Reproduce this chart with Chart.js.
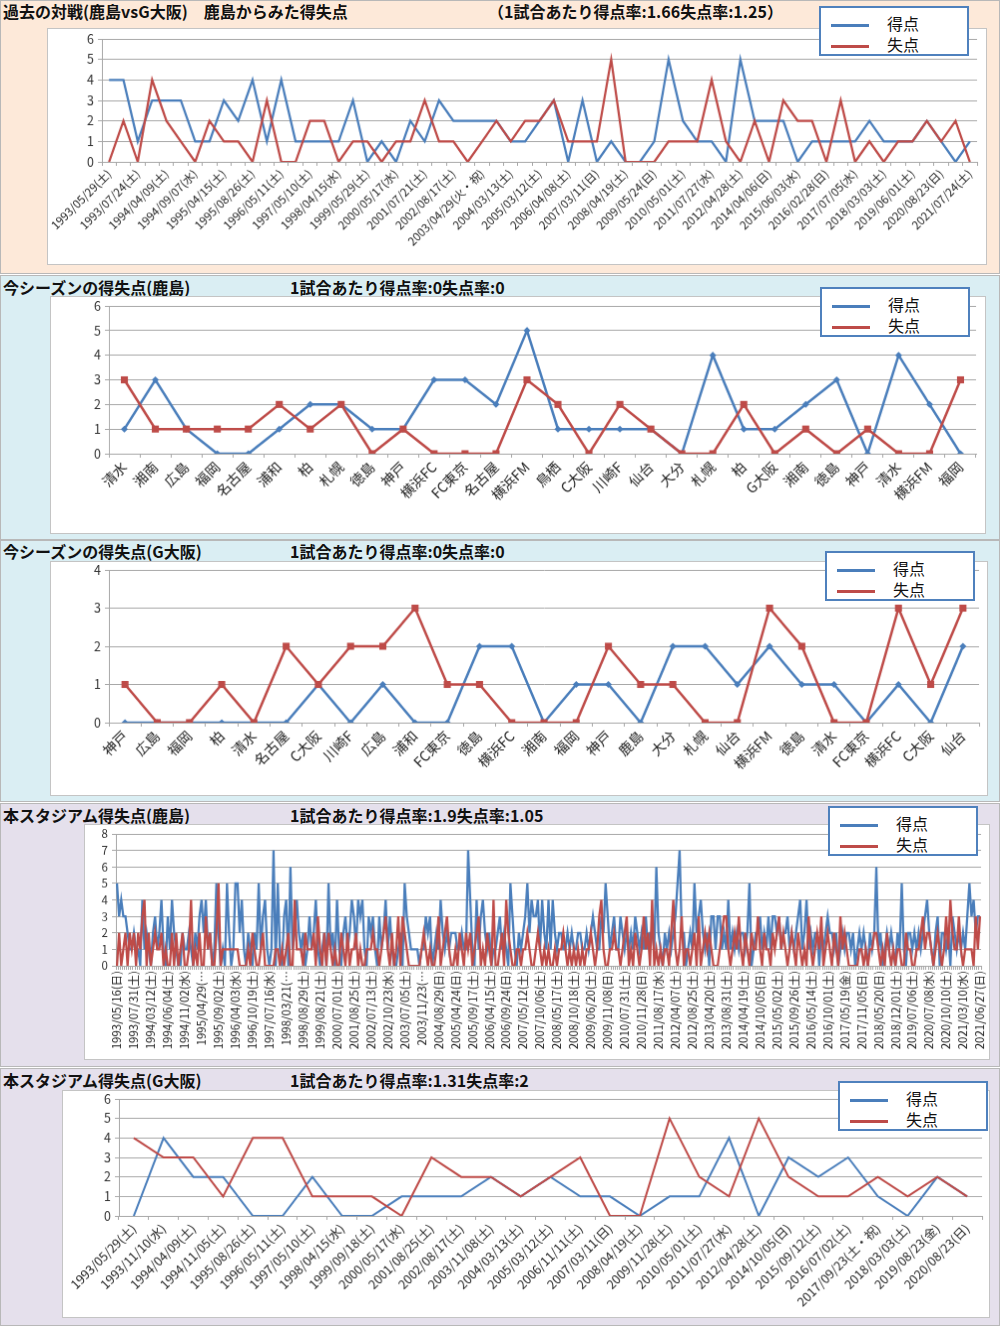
<!DOCTYPE html>
<html lang="ja">
<head>
<meta charset="UTF-8">
<title>鹿島 vs G大阪 得失点</title>
<script src="https://cdn.jsdelivr.net/npm/chart.js@4"></script>
<style>
  body { margin: 0; width: 1000px; height: 1326px; position: relative; font-family: 'Noto Sans CJK JP', sans-serif; background: #fff; }
  .panel { position: absolute; left: 0; width: 998px; border: 1px solid #b8b8b8; }
  .ttl { position: absolute; font-size: 16px; font-weight: bold; color: #111; white-space: nowrap; line-height: 18px; }
  canvas { position: absolute; background: #fff; border: 1px solid #c4c4c4; }
  .legend { position: absolute; width: 150px; height: 50px; background: #fff; border: 2px solid #4f81bd; box-sizing: border-box; }
  .legend div { position: absolute; left: 66px; font-size: 16px; line-height: 18px; color: #111; }
  .legend span { position: absolute; left: 10px; width: 38px; height: 3px; }
</style>
</head>
<body>
<div class="panel" style="top:0;height:272px;background:#fde9d9"></div>
<div class="panel" style="top:275px;height:263px;background:#daeef3"></div>
<div class="panel" style="top:540px;height:260px;background:#daeef3"></div>
<div class="panel" style="top:803px;height:262px;background:#e5e0ec"></div>
<div class="panel" style="top:1068px;height:256px;background:#e5e0ec"></div>

<div class="ttl" style="left:3px;top:2px">過去の対戦(鹿島vsG大阪)　鹿島からみた得失点</div>
<div class="ttl" style="left:488px;top:2px">（1試合あたり得点率:1.66失点率:1.25）</div>
<div class="ttl" style="left:3px;top:278px">今シーズンの得失点(鹿島)</div>
<div class="ttl" style="left:290px;top:278px">1試合あたり得点率:0失点率:0</div>
<div class="ttl" style="left:3px;top:542px">今シーズンの得失点(G大阪)</div>
<div class="ttl" style="left:290px;top:542px">1試合あたり得点率:0失点率:0</div>
<div class="ttl" style="left:3px;top:806px">本スタジアム得失点(鹿島)</div>
<div class="ttl" style="left:290px;top:806px">1試合あたり得点率:1.9失点率:1.05</div>
<div class="ttl" style="left:3px;top:1071px">本スタジアム得失点(G大阪)</div>
<div class="ttl" style="left:290px;top:1071px">1試合あたり得点率:1.31失点率:2</div>

<canvas id="c1" width="940" height="237" style="left:47px;top:28px"></canvas>
<canvas id="c2" width="936" height="238" style="left:50px;top:296px"></canvas>
<canvas id="c3" width="938" height="235" style="left:50px;top:561px"></canvas>
<canvas id="c4" width="906" height="236" style="left:84px;top:824px"></canvas>
<canvas id="c5" width="928" height="228" style="left:62px;top:1090px"></canvas>

<div class="legend" style="left:819px;top:6px"><span style="top:16px;background:#4a7ebb"></span><div style="top:6px">得点</div><span style="top:37px;background:#be4b48"></span><div style="top:27px">失点</div></div>
<div class="legend" style="left:820px;top:287px"><span style="top:16px;background:#4a7ebb"></span><div style="top:6px">得点</div><span style="top:37px;background:#be4b48"></span><div style="top:27px">失点</div></div>
<div class="legend" style="left:825px;top:551px"><span style="top:16px;background:#4a7ebb"></span><div style="top:6px">得点</div><span style="top:37px;background:#be4b48"></span><div style="top:27px">失点</div></div>
<div class="legend" style="left:828px;top:806px"><span style="top:16px;background:#4a7ebb"></span><div style="top:6px">得点</div><span style="top:37px;background:#be4b48"></span><div style="top:27px">失点</div></div>
<div class="legend" style="left:838px;top:1081px"><span style="top:16px;background:#4a7ebb"></span><div style="top:6px">得点</div><span style="top:37px;background:#be4b48"></span><div style="top:27px">失点</div></div>

<script>
// 過去の対戦 (61試合, ラベルは1試合おき)
const h2hDates = ['1993/05/29(土)','1993/07/24(土)','1994/04/09(土)','1994/09/07(水)','1995/04/15(土)','1995/08/26(土)','1996/05/11(土)','1997/05/10(土)','1998/04/15(水)','1999/05/29(土)','2000/05/17(水)','2001/07/21(土)','2002/08/17(土)','2003/04/29(火・祝)','2004/03/13(土)','2005/03/12(土)','2006/04/08(土)','2007/03/11(日)','2008/04/19(土)','2009/05/24(日)','2010/05/01(土)','2011/07/27(水)','2012/04/28(土)','2014/04/06(日)','2015/06/03(水)','2016/02/28(日)','2017/07/05(水)','2018/03/03(土)','2019/06/01(土)','2020/08/23(日)','2021/07/24(土)'];
const h2hFor = [4,4,1,3,3,3,1,1,3,2,4,1,4,1,1,1,1,3,0,1,0,2,1,3,2,2,2,2,1,1,2,3,0,3,0,1,0,0,1,5,2,1,1,0,5,2,2,2,0,1,1,1,1,2,1,1,1,2,1,0,1];
const h2hAgainst = [0,2,0,4,2,1,0,2,1,1,0,3,0,0,2,2,0,1,1,0,1,1,3,1,1,0,1,2,1,2,2,3,1,1,1,5,0,0,0,1,1,1,4,1,0,2,0,3,2,2,0,3,0,1,0,1,1,2,1,2,0];

// 今シーズン(鹿島)
const kashimaTeams = ['清水','湘南','広島','福岡','名古屋','浦和','柏','札幌','徳島','神戸','横浜FC','FC東京','名古屋','横浜FM','鳥栖','C大阪','川崎F','仙台','大分','札幌','柏','G大阪','湘南','徳島','神戸','清水','横浜FM','福岡'];
const kashimaFor = [1,3,1,0,0,1,2,2,1,1,3,3,2,5,1,1,1,1,0,4,1,1,2,3,0,4,2,0];
const kashimaAgainst = [3,1,1,1,1,2,1,2,0,1,0,0,0,3,2,0,2,1,0,0,2,0,1,0,1,0,0,3];

// 今シーズン(G大阪)
const gambaTeams = ['神戸','広島','福岡','柏','清水','名古屋','C大阪','川崎F','広島','浦和','FC東京','徳島','横浜FC','湘南','福岡','神戸','鹿島','大分','札幌','仙台','横浜FM','徳島','清水','FC東京','横浜FC','C大阪','仙台'];
const gambaFor = [0,0,0,0,0,0,1,0,1,0,0,2,2,0,1,1,0,2,2,1,2,1,1,0,1,0,2];
const gambaAgainst = [1,0,0,1,0,2,1,2,2,3,1,1,0,0,0,2,1,1,0,0,3,2,0,0,3,1,3];

// 本スタジアム(鹿島) 409試合, ラベルは8試合おき
const stadiumKDates = ['1993/05/16(日)','1993/07/31(土)','1994/03/12(土)','1994/06/04(土)','1994/11/02(水)','1995/04/29(…','1995/09/02(土)','1996/04/03(水)','1996/10/19(土)','1997/07/16(水)','1998/03/21(…','1998/08/29(土)','1999/08/21(土)','2000/07/01(土)','2001/08/25(土)','2002/07/13(土)','2002/10/23(水)','2003/07/05(土)','2003/11/23(…','2004/08/29(日)','2005/04/24(日)','2005/09/17(土)','2006/04/15(土)','2006/09/24(日)','2007/05/12(土)','2007/10/06(土)','2008/05/17(土)','2008/10/18(土)','2009/06/20(土)','2009/11/08(日)','2010/07/31(土)','2010/11/28(日)','2011/08/17(水)','2012/04/07(土)','2012/08/25(土)','2013/04/20(土)','2013/08/31(土)','2014/04/19(土)','2014/10/05(日)','2015/05/02(土)','2015/09/26(土)','2016/05/14(土)','2016/10/01(土)','2017/05/19(金)','2017/11/05(日)','2018/05/20(日)','2018/12/01(土)','2019/07/06(土)','2020/07/08(水)','2020/10/10(土)','2021/03/10(水)','2021/06/27(日)'];
const stadiumKFor = [
  5,3,4,3,3,2,1,1,2,1,1,0,4,1,2,1,0,2,3,1,
  2,4,1,0,3,1,4,2,1,0,0,2,1,1,2,1,0,2,1,3,
  4,2,4,1,2,0,1,5,2,0,1,0,5,2,0,1,5,5,2,4,
  1,0,2,1,0,2,1,5,1,3,4,1,0,1,7,0,5,1,0,3,
  4,0,6,1,2,4,2,1,2,0,1,3,1,2,4,1,0,1,2,0,
  5,1,2,0,4,1,0,2,3,1,2,4,3,1,4,3,4,1,0,3,
  2,3,1,0,3,1,2,4,1,3,1,0,0,1,2,0,5,3,2,1,
  1,1,1,0,1,1,3,2,3,0,1,2,1,4,2,1,2,1,2,2,
  2,1,1,2,1,1,7,4,1,0,4,1,3,4,2,1,2,0,1,1,
  2,3,1,2,1,0,5,3,1,0,2,1,2,3,5,2,4,3,3,4,
  1,4,2,1,4,1,4,2,1,2,2,1,1,2,1,2,1,1,2,2,
  1,1,2,1,2,3,2,1,1,3,2,5,3,1,2,3,1,1,3,2,
  1,2,1,2,1,3,2,1,2,1,3,1,2,2,1,6,2,1,0,2,
  1,2,1,2,3,5,7,2,2,0,1,2,1,5,2,3,4,2,1,2,
  0,3,3,1,3,3,1,2,1,4,1,2,1,2,1,2,2,1,2,5,
  0,1,2,2,3,1,2,1,3,1,3,3,2,3,1,2,2,3,1,2,
  1,2,3,4,1,2,4,1,2,1,2,2,0,2,1,2,3,2,2,1,
  2,0,1,2,1,2,2,1,2,0,1,2,1,2,1,0,2,1,2,6,
  1,2,0,1,2,1,2,1,0,2,1,5,1,0,2,2,1,2,1,2,
  1,2,3,4,2,1,0,2,3,0,2,2,1,2,0,3,2,1,2,1,
  2,1,3,5,3,4,2,3,3
];
const stadiumKAgainst = [
  0,2,0,1,2,0,2,1,2,0,2,1,3,4,0,2,0,1,2,1,
  1,2,0,1,0,0,2,0,2,0,1,2,0,0,1,4,0,1,0,2,
  0,0,3,1,2,0,0,2,5,0,1,1,1,1,1,1,1,1,0,0,
  0,0,1,0,2,1,0,0,1,2,0,0,0,0,0,1,1,0,1,0,
  1,2,0,0,4,1,1,1,0,2,1,1,1,2,0,3,1,0,2,0,
  2,1,0,1,0,0,2,1,0,2,0,1,1,2,0,1,0,0,1,1,
  1,2,1,1,0,1,2,3,1,0,2,0,1,3,0,3,2,1,0,0,
  0,0,0,0,1,2,1,0,1,0,0,1,3,0,1,2,3,1,0,0,
  1,0,2,1,0,2,1,2,0,1,2,3,0,1,0,2,1,0,4,0,
  0,1,2,0,4,2,1,0,0,1,1,0,1,1,2,1,0,0,1,2,
  1,0,1,0,1,0,0,1,0,1,1,2,1,0,1,0,1,0,1,0,
  1,0,1,1,2,1,0,1,3,4,1,0,0,1,1,2,1,1,0,1,
  2,3,0,1,0,2,1,0,1,3,1,2,0,4,0,1,0,1,0,1,
  1,0,2,4,1,0,1,3,0,1,1,0,1,2,0,3,0,1,2,1,
  2,1,0,0,0,1,2,3,3,1,0,1,2,1,3,1,0,2,1,0,
  2,1,1,3,1,0,2,1,1,0,2,1,2,3,1,2,1,0,1,2,
  1,0,2,1,0,1,0,3,1,0,1,2,1,3,0,1,2,1,0,2,
  1,0,3,1,2,1,0,0,0,0,0,1,1,0,1,0,1,1,2,2,
  1,0,1,0,2,1,0,1,0,1,1,0,0,2,1,1,0,0,1,1,
  2,3,1,2,2,1,0,1,2,1,0,1,3,1,4,2,1,1,3,1,
  0,1,1,1,1,0,3,1,3
];

// 本スタジアム(G大阪)
const stadiumGDates = ['1993/05/29(土)','1993/11/10(水)','1994/04/09(土)','1994/11/05(土)','1995/08/26(土)','1996/05/11(土)','1997/05/10(土)','1998/04/15(水)','1999/09/18(土)','2000/05/17(水)','2001/08/25(土)','2002/08/17(土)','2003/11/08(土)','2004/03/13(土)','2005/03/12(土)','2006/11/11(土)','2007/03/11(日)','2008/04/19(土)','2009/11/28(土)','2010/05/01(土)','2011/07/27(水)','2012/04/28(土)','2014/10/05(日)','2015/09/12(土)','2016/07/02(土)','2017/09/23(土・祝)','2018/03/03(土)','2019/08/23(金)','2020/08/23(日)'];
const stadiumGFor = [0,4,2,2,0,0,2,0,0,1,1,1,2,1,2,1,1,0,1,1,4,0,3,2,3,1,0,2,1];
const stadiumGAgainst = [4,3,3,1,4,4,1,1,1,0,3,2,2,1,2,3,0,0,5,2,1,5,2,1,1,2,1,2,1];

const BLUE = '#4a7ebb';
const RED = '#be4b48';
const GRID = '#a8a8a8';
const FONT = "'Noto Sans CJK JP', sans-serif";

// show a date every `step` games, blank for the rest
function spread(dates, step, total) {
  const out = [];
  for (let i = 0; i < total; i++) out.push(i % step === 0 ? (dates[i / step] || '') : '');
  return out;
}

function drawPanel(id, labels, goals, conceded, o) {
  new Chart(document.getElementById(id), {
    type: 'line',
    data: {
      labels: labels,
      datasets: [
        { label: '得点', data: goals, borderColor: BLUE, backgroundColor: BLUE, borderWidth: o.lw,
          pointRadius: o.markers ? 3.5 : 0, pointStyle: 'rectRot', pointBorderWidth: 0, tension: 0, order: 1 },
        { label: '失点', data: conceded, borderColor: RED, backgroundColor: RED, borderWidth: o.lw,
          pointRadius: o.markers ? 5 : 0, pointStyle: 'rect', pointBorderWidth: 0, tension: 0, order: 0 }
      ]
    },
    options: {
      responsive: false,
      animation: false,
      events: [],
      layout: { padding: { left: 0, right: o.padR, top: o.padT, bottom: 0 } },
      plugins: { legend: { display: false }, tooltip: { enabled: false } },
      scales: {
        x: {
          offset: true,
          grid: { offset: true, drawOnChartArea: false, tickLength: 4, color: GRID },
          border: { color: GRID },
          ticks: { autoSkip: false, minRotation: o.rot, maxRotation: o.rot, padding: 1,
                   color: '#222', font: { family: FONT, size: o.xfs } },
          afterFit: s => { s.height = o.xh; s.paddingLeft = 0; s.paddingRight = 0; }
        },
        y: {
          min: 0, max: o.ymax,
          ticks: { stepSize: 1, autoSkip: false, padding: 4, color: '#333', font: { family: FONT, size: o.yfs } },
          grid: { color: GRID, tickLength: 4 },
          border: { color: GRID },
          afterFit: s => { s.width = o.yw; s.paddingTop = 0; s.paddingBottom = 0; }
        }
      }
    }
  });
}

drawPanel('c1', spread(h2hDates, 2, h2hFor.length), h2hFor, h2hAgainst,
  { lw: 2.25, markers: false, padR: 9, padT: 10, xh: 103, yw: 54, rot: 45, xfs: 11.5, yfs: 12.5, ymax: 6 });
drawPanel('c2', kashimaTeams, kashimaFor, kashimaAgainst,
  { lw: 2.5, markers: true, padR: 9, padT: 9, xh: 80, yw: 58, rot: 45, xfs: 14, yfs: 12.5, ymax: 6 });
drawPanel('c3', gambaTeams, gambaFor, gambaAgainst,
  { lw: 2.5, markers: true, padR: 8, padT: 8, xh: 73, yw: 58, rot: 45, xfs: 14, yfs: 12.5, ymax: 4 });
drawPanel('c4', spread(stadiumKDates, 8, stadiumKFor.length), stadiumKFor, stadiumKAgainst,
  { lw: 2.25, markers: false, padR: 8, padT: 9, xh: 94, yw: 31, rot: 90, xfs: 11.5, yfs: 11.5, ymax: 8 });
drawPanel('c5', stadiumGDates, stadiumGFor, stadiumGAgainst,
  { lw: 2, markers: false, padR: 7, padT: 8, xh: 102, yw: 56, rot: 45, xfs: 12.5, yfs: 12.5, ymax: 6 });
</script>
</body>
</html>
